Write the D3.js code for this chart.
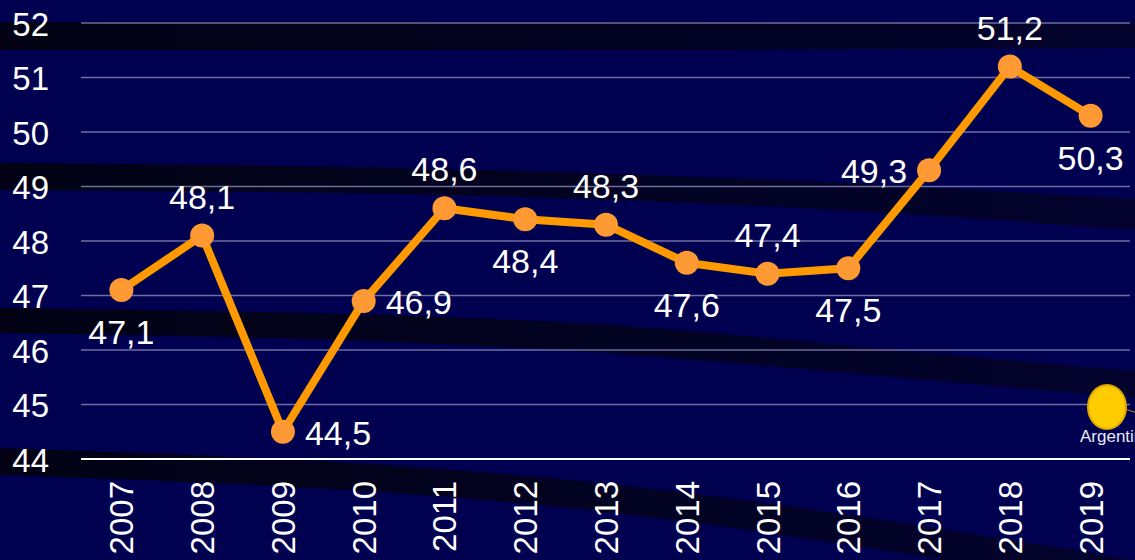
<!DOCTYPE html>
<html>
<head>
<meta charset="utf-8">
<script src="https://cdn.jsdelivr.net/npm/d3@7/dist/d3.min.js"></script>
<style>
  html, body { margin: 0; padding: 0; background: #000050; overflow: hidden; }
  #graph { width: 1135px; height: 560px; }
  text { font-family: "Liberation Sans", Arial, sans-serif; fill: #ffffff; }
</style>
</head>
<body>
<div id="graph"></div>
<script>
// chart values
const years = ['2007','2008','2009','2010','2011','2012','2013','2014','2015','2016','2017','2018','2019']
const values = [47.1, 48.1, 44.5, 46.9, 48.6, 48.4, 48.3, 47.6, 47.4, 47.5, 49.3, 51.2, 50.3]
const yTicks = [44, 45, 46, 47, 48, 49, 50, 51, 52]

const width = 1135
const height = 560
const plotLeft = 81
const plotRight = 1131
const plotTop = 23
const plotBottom = 459

const svg = d3.select('#graph')
  .append('svg')
  .attr('width', width)
  .attr('height', height)

// background
svg.append('rect')
  .attr('width', width)
  .attr('height', height)
  .attr('fill', '#000050')

// decorative dark swooshes from the slide template
const grad = svg.append('defs').append('linearGradient')
  .attr('id', 'band')
  .attr('x1', '0%').attr('x2', '100%')
grad.append('stop').attr('offset', '0%').attr('stop-color', '#020214')
grad.append('stop').attr('offset', '100%').attr('stop-color', '#03032e')

const bands = [
  [[0, 22, 50], [560, 22, 50], [1135, 22, 48]],
  [[0, 163, 190], [400, 168, 194], [800, 181, 208], [1135, 199, 230]],
  [[0, 308, 333], [560, 322, 350], [950, 355, 382], [1135, 371, 398]],
  [[0, 448, 475], [560, 479, 507], [1135, 560, 592]]
]
const bandArea = d3.area()
  .x(d => d[0])
  .y0(d => d[1])
  .y1(d => d[2])
  .curve(d3.curveMonotoneX)
svg.selectAll('.band')
  .data(bands)
  .enter()
  .append('path')
  .attr('class', 'band')
  .attr('d', bandArea)
  .attr('fill', 'url(#band)')

// scales
const xScale = d3.scaleBand()
  .domain(years)
  .range([plotLeft, plotRight])
const cx = d => xScale(d) + xScale.bandwidth() / 2
const yScale = d3.scaleLinear()
  .domain([44, 52])
  .range([plotBottom, plotTop])

// grid
svg.append('g')
  .selectAll('line')
  .data(yTicks.filter(t => t != 44))
  .enter()
  .append('line')
  .attr('x1', plotLeft)
  .attr('x2', 1130)
  .attr('y1', d => yScale(d))
  .attr('y2', d => yScale(d))
  .attr('stroke', '#8a8ab8')
  .attr('stroke-opacity', 0.8)
  .attr('stroke-width', 1.5)

// y axis labels
const yAxis = d3.axisLeft(yScale).tickValues(yTicks).tickSize(0).tickPadding(0)
const gy = svg.append('g')
  .attr('transform', `translate(49,0)`)
  .call(yAxis)
gy.select('.domain').remove()
gy.selectAll('text')
  .attr('fill', '#ffffff')
  .attr('font-size', 33)
  .attr('font-family', '"Liberation Sans", Arial, sans-serif')
  .attr('dy', 12)

// x axis labels
const xAxis = d3.axisBottom(xScale).tickSize(0).tickPadding(0)
const gx = svg.append('g')
  .attr('transform', `translate(0,${plotBottom})`)
  .call(xAxis)
gx.select('.domain').remove()
gx.selectAll('text')
  .attr('fill', '#ffffff')
  .attr('font-size', 33)
  .attr('font-family', '"Liberation Sans", Arial, sans-serif')
  .attr('text-anchor', 'end')
  .attr('dy', 0)
  .attr('y', 0)
  .attr('transform', 'translate(12,22) rotate(-90)')

// baseline
svg.append('line')
  .attr('x1', plotLeft)
  .attr('x2', 1130)
  .attr('y1', yScale(44))
  .attr('y2', yScale(44))
  .attr('stroke', '#ffffff')
  .attr('stroke-width', 2)

// Argentina sun marker (template decoration)
svg.append('line')
  .attr('x1', 1125).attr('y1', 409)
  .attr('x2', 1140).attr('y2', 414)
  .attr('stroke', '#c08020')
  .attr('stroke-width', 1)
svg.append('ellipse')
  .attr('cx', 1107).attr('cy', 407)
  .attr('rx', 19).attr('ry', 22)
  .attr('fill', '#ffcc00')
  .attr('stroke', '#e0a800')
  .attr('stroke-width', 2)
svg.append('text')
  .attr('x', 1080).attr('y', 442)
  .attr('font-size', 17)
  .attr('font-family', '"Liberation Sans Narrow", "Open Sans", sans-serif')
  .style('fill', '#e8e8f0')
  .text('Argentina')

// line
const data = years.map((y, i) => ({ year: y, value: values[i] }))
const line = d3.line()
  .x(d => cx(d.year))
  .y(d => yScale(d.value))
svg.append('path')
  .datum(data)
  .attr('d', line)
  .attr('fill', 'none')
  .attr('stroke', '#ff9900')
  .attr('stroke-width', 8)
  .attr('stroke-linejoin', 'round')

svg.selectAll('.dot')
  .data(data)
  .enter()
  .append('circle')
  .attr('class', 'dot')
  .attr('cx', d => cx(d.year))
  .attr('cy', d => yScale(d.value))
  .attr('r', 12)
  .attr('fill', '#ff9933')

// value labels, placed around each point like the original
const place = {
  '2007': 'below', '2008': 'above', '2009': 'right', '2010': 'right',
  '2011': 'above', '2012': 'below', '2013': 'above', '2014': 'below',
  '2015': 'above', '2016': 'below', '2017': 'left', '2018': 'above', '2019': 'below'
}
const fmt = v => v.toFixed(1).replace('.', ',')
svg.selectAll('.val')
  .data(data)
  .enter()
  .append('text')
  .attr('class', 'val')
  .attr('font-size', 34)
  .attr('text-anchor', d => place[d.year] == 'right' ? 'start' : place[d.year] == 'left' ? 'end' : 'middle')
  .attr('x', d => {
    let p = place[d.year]
    return p == 'right' ? cx(d.year) + 22 : p == 'left' ? cx(d.year) - 22 : cx(d.year)
  })
  .attr('y', d => {
    let p = place[d.year]
    let y = yScale(d.value)
    return p == 'below' ? y + 54 : p == 'above' ? y - 27 : y + 13
  })
  .text(d => fmt(d.value))
</script>
</body>
</html>
